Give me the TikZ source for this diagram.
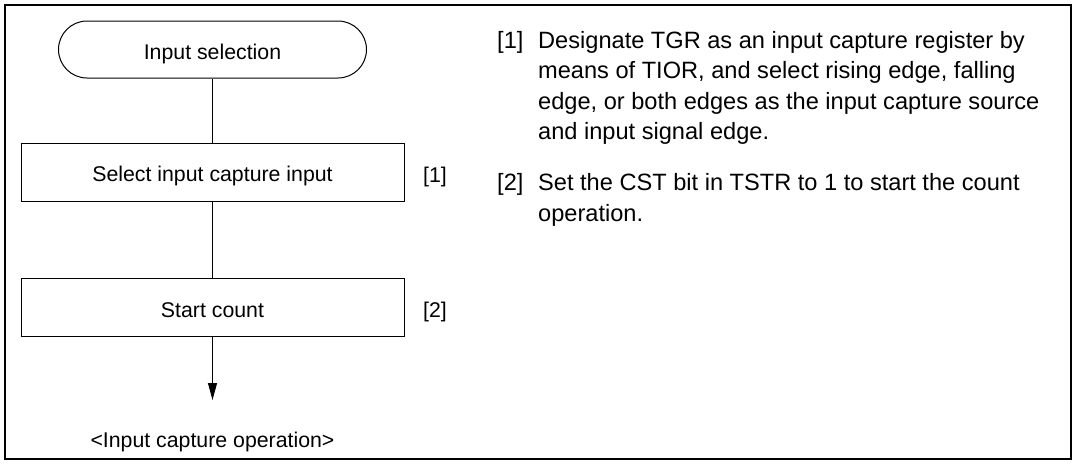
\documentclass[tikz,border=0pt]{standalone}
\usepackage{fontspec}
\setmainfont{Liberation Sans}
\usetikzlibrary{arrows.meta}
\begin{document}
\begin{tikzpicture}[x=1pt,y=-1pt,
  flow/.style={draw, line width=1pt, font=\fontsize{21.3}{26}\selectfont, text height=19pt, text depth=0pt, inner sep=0pt},
  procbox/.style={flow, rectangle, minimum width=383pt, minimum height=58pt},
  termbox/.style={flow, rectangle, rounded corners=28.5pt, minimum width=308pt, minimum height=57pt},
  lbl/.style={font=\fontsize{21.3}{26}\selectfont, anchor=base west, inner sep=0pt},
  desc/.style={font=\fontsize{23.6}{30}\selectfont, anchor=base west, inner sep=0pt},
  conn/.style={line width=1pt}]
\useasboundingbox (0,0) rectangle (1076,464);
\draw[line width=2.5pt] (5,5) rectangle (1071,459);
% flowchart
\node[termbox] (start) at (212.5,49.5) {Input selection};
\node[procbox] (sel) at (212.5,172) {Select input capture input};
\node[procbox] (cnt) at (212.5,307.5) {Start count};
\coordinate (end) at (212.5,400);
\node[lbl, anchor=base] (op) at (212.5,447) {<Input capture operation>};
\node[lbl] (l1) at (423,182) {[1]};
\node[lbl] (l2) at (423,317) {[2]};
\draw[conn] (start.south) -- (sel.north);
\draw[conn] (sel.south) -- (cnt.north);
\draw[conn,-{Triangle[length=17pt,width=9pt]}] (cnt.south) -- (end);
% description
\node[desc] (r1) at (497,48) {[1]};
\node[desc] (d1a) at (538,48) {Designate TGR as an input capture register by};
\node[desc] (d1b) at (538,78.5) {means of TIOR, and select rising edge, falling};
\node[desc] (d1c) at (538,109) {edge, or both edges as the input capture source};
\node[desc] (d1d) at (538,139.5) {and input signal edge.};
\node[desc] (r2) at (497,190) {[2]};
\node[desc] (d2a) at (538,190) {Set the CST bit in TSTR to 1 to start the count};
\node[desc] (d2b) at (538,221) {operation.};
\end{tikzpicture}
\end{document}
